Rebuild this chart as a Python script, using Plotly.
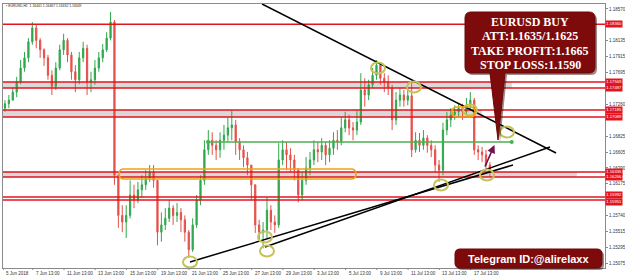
import plotly.graph_objects as go

# ---------------- data ----------------
hours_per_candle = 6          # each candle aggregates 6 H1 bars
first_open = 1.1721
close = [1.1727, 1.1732, 1.1743, 1.1757, 1.1776, 1.1790, 1.1812, 1.1831, 1.1814, 1.1801,
         1.1790, 1.1766, 1.1751, 1.1776, 1.1801, 1.1814, 1.1794, 1.1771, 1.1760, 1.1790,
         1.1803, 1.1757, 1.1760, 1.1776, 1.1790, 1.1801, 1.1817, 1.1839, 1.1629, 1.1574,
         1.1565, 1.1574, 1.1602, 1.1595, 1.1609, 1.1616, 1.1625, 1.1633, 1.1622, 1.1551,
         1.1561, 1.1570, 1.1584, 1.1574, 1.1578, 1.1568, 1.1551, 1.1527, 1.1561, 1.1595,
         1.1622, 1.1664, 1.1677, 1.1670, 1.1664, 1.1677, 1.1684, 1.1694, 1.1698, 1.1675,
         1.1664, 1.1653, 1.1643, 1.1616, 1.1561, 1.1551, 1.1554, 1.1581, 1.1565, 1.1561,
         1.1650, 1.1664, 1.1657, 1.1650, 1.1636, 1.1602, 1.1622, 1.1639, 1.1650, 1.1664,
         1.1661, 1.1670, 1.1657, 1.1666, 1.1677, 1.1675, 1.1694, 1.1705, 1.1694, 1.1691,
         1.1702, 1.1746, 1.1739, 1.1753, 1.1766, 1.1780, 1.1762, 1.1757, 1.1749, 1.1705,
         1.1732, 1.1739, 1.1732, 1.1738, 1.1664, 1.1677, 1.1670, 1.1680, 1.1670, 1.1664,
         1.1643, 1.1636, 1.1691, 1.1705, 1.1712, 1.1716, 1.1721, 1.1716, 1.1725, 1.1732,
         1.1664, 1.1661, 1.1657, 1.1643, 1.1635]
high = [1.1732, 1.1739, 1.1749, 1.1764, 1.1787, 1.1798, 1.1817, 1.1839, 1.1835, 1.1817,
        1.1803, 1.1794, 1.1773, 1.1784, 1.1808, 1.1823, 1.1817, 1.1798, 1.1780, 1.1798,
        1.1812, 1.1808, 1.1771, 1.1787, 1.1798, 1.1809, 1.1825, 1.1853, 1.1842, 1.1629,
        1.1588, 1.1588, 1.1622, 1.1616, 1.1620, 1.1629, 1.1636, 1.1643, 1.1643, 1.1622,
        1.1578, 1.1584, 1.1595, 1.1588, 1.1591, 1.1584, 1.1574, 1.1554, 1.1570, 1.1602,
        1.1629, 1.1677, 1.1691, 1.1688, 1.1677, 1.1688, 1.1698, 1.1708, 1.1718, 1.1705,
        1.1680, 1.1670, 1.1661, 1.1643, 1.1616, 1.1568, 1.1565, 1.1599, 1.1588, 1.1574,
        1.1673, 1.1677, 1.1675, 1.1666, 1.1657, 1.1639, 1.1633, 1.1654, 1.1661, 1.1677,
        1.1675, 1.1680, 1.1675, 1.1677, 1.1688, 1.1691, 1.1708, 1.1716, 1.1712, 1.1702,
        1.1718, 1.1769, 1.1762, 1.1760, 1.1776, 1.1787, 1.1784, 1.1769, 1.1766, 1.1753,
        1.1743, 1.1749, 1.1746, 1.1749, 1.1756, 1.1688, 1.1687, 1.1691, 1.1684, 1.1677,
        1.1670, 1.1650, 1.1701, 1.1716, 1.1721, 1.1725, 1.1728, 1.1727, 1.1735, 1.1743,
        1.1735, 1.1670, 1.1668, 1.1664, 1.1647]
low = [1.1716, 1.1721, 1.1732, 1.1736, 1.1754, 1.1771, 1.1784, 1.1808, 1.1803, 1.1790,
       1.1779, 1.1760, 1.1739, 1.1746, 1.1773, 1.1794, 1.1784, 1.1760, 1.1743, 1.1754,
       1.1784, 1.1739, 1.1743, 1.1753, 1.1771, 1.1784, 1.1798, 1.1814, 1.1616, 1.1557,
       1.1551, 1.1543, 1.1570, 1.1584, 1.1591, 1.1598, 1.1609, 1.1620, 1.1612, 1.1533,
       1.1538, 1.1554, 1.1565, 1.1561, 1.1565, 1.1551, 1.1538, 1.1516, 1.1524, 1.1557,
       1.1588, 1.1616, 1.1657, 1.1657, 1.1650, 1.1653, 1.1664, 1.1675, 1.1677, 1.1657,
       1.1650, 1.1640, 1.1629, 1.1595, 1.1550, 1.1540, 1.1529, 1.1543, 1.1554, 1.1550,
       1.1557, 1.1643, 1.1636, 1.1633, 1.1622, 1.1592, 1.1595, 1.1616, 1.1629, 1.1643,
       1.1647, 1.1650, 1.1643, 1.1647, 1.1657, 1.1664, 1.1670, 1.1688, 1.1684, 1.1677,
       1.1684, 1.1698, 1.1723, 1.1732, 1.1749, 1.1760, 1.1753, 1.1743, 1.1739, 1.1691,
       1.1698, 1.1723, 1.1723, 1.1725, 1.1654, 1.1660, 1.1661, 1.1664, 1.1660, 1.1654,
       1.1633, 1.1620, 1.1629, 1.1684, 1.1695, 1.1705, 1.1708, 1.1705, 1.1712, 1.1718,
       1.1657, 1.1650, 1.1647, 1.1636, 1.1627]

tick_bars = [0, 45, 93, 141, 189, 237, 285, 333, 381, 429, 477, 525, 573, 621, 669, 717]
tick_labels = ['5 Jun 2018', '7 Jun 13:00', '11 Jun 13:00', '13 Jun 13:00', '15 Jun 13:00',
               '19 Jun 13:00', '21 Jun 13:00', '25 Jun 13:00', '27 Jun 13:00', '29 Jun 13:00',
               '3 Jul 13:00', '5 Jul 13:00', '9 Jul 13:00', '11 Jul 13:00', '13 Jul 13:00',
               '17 Jul 13:00']
# price scale labels that stay visible (the others are covered by the level tags)
price_ticks = [1.18570, 1.18135, 1.17915, 1.17695, 1.17260,
               1.16825, 1.16605, 1.16390, 1.16175, 1.15740, 1.15515, 1.15295, 1.15075]

red_levels = [1.18360, 1.17569, 1.17487, 1.17185, 1.17089, 1.16335, 1.16266, 1.15992, 1.15951]
tag_nudge = [0, 0, 0, 0, 0, 0, 0, 1.6, -1.6]   # small vertical nudge of stacked price tags (px)
zones = [(1.17487, 1.17569, 780), (1.17089, 1.17185, 734), (1.16266, 1.16335, 880)]  # (low, high, end bar)
green_level = 1.16746
green_span = [314, 780]

trend_lines = [((397.0, 1.18638), (848.0, 1.16596)),
               ((286.4, 1.15101), (781.9, 1.16431)),
               ((401.4, 1.15307), (838.7, 1.16678))]
circles = [(574.8, 1.17761), (630.0, 1.17500), (716.0, 1.17185), (772.7, 1.16883),
           (742.0, 1.16294), (671.5, 1.16157), (286.4, 1.15101), (401.4, 1.15444),
           (404.5, 1.15252)]
orange_boxes = [((177.5, 1.16239), (541.1, 1.16376)), ((688.4, 1.17089), (723.7, 1.17226))]
arrow = ((738.0, 1.16390), (753.5, 1.16705))

header = '\u25aa EURUSD,H1  1.16441 1.16467 1.16332 1.16349'
signal_lines = ['EURUSD BUY', 'ATT:1.1635/1.1625', 'TAKE PROFIT:1.1665', 'STOP LOSS:1.1590']
telegram = 'Telegram ID:@alirelaxx'

# ---------------- figure ----------------
W, H = 625, 279
ML, MR, MT, MB = 3, 20, 4, 11
x_range = [-0.5, 923.1]
y_range = [1.15019, 1.18638]
bar_px = (W - ML - MR) / (x_range[1] - x_range[0])
price_px = (H - MT - MB) / (y_range[1] - y_range[0])

candle_x = [hours_per_candle * k + 2.5 for k in range(len(close))]
opens = [first_open] + close[:-1]

fig = go.Figure()
fig.add_trace(go.Candlestick(
    x=candle_x, open=opens, high=high, low=low, close=close,
    increasing=dict(line=dict(color='#2fa84c', width=1), fillcolor='#2fa84c'),
    decreasing=dict(line=dict(color='#e5504a', width=1), fillcolor='#e5504a'),
    whiskerwidth=0, showlegend=False, hoverinfo='skip'))

shapes = []
for lo, hi, end in zones:
    shapes.append(dict(type='rect', xref='x', yref='y', x0=x_range[0], x1=end, y0=lo, y1=hi,
                       fillcolor='#d9d9d9', line=dict(width=0), layer='below'))
for lv in red_levels:
    shapes.append(dict(type='line', xref='paper', yref='y', x0=0, x1=1, y0=lv, y1=lv,
                       line=dict(color='#e3141c', width=1.4)))
for (xa, ya), (xb, yb) in trend_lines:
    shapes.append(dict(type='line', xref='x', yref='y', x0=xa, y0=ya, x1=xb, y1=yb,
                       line=dict(color='black', width=1.5)))
for b in tick_bars:   # small tick marks under the time scale
    shapes.append(dict(type='line', xref='x', yref='paper', x0=b, x1=b, y0=0, y1=-2 / (H - MT - MB),
                       line=dict(color='#8a8a8a', width=1)))

rx_c, ry_c = 7 / bar_px, 5.5 / price_px
for cx, cy in circles:
    shapes.append(dict(type='circle', xref='x', yref='y', x0=cx - rx_c, x1=cx + rx_c,
                       y0=cy - ry_c, y1=cy + ry_c, line=dict(color='#c6c25a', width=2)))


def rounded_path(x0, y0, x1, y1, rx, ry):
    return (f'M{x0+rx},{y0} L{x1-rx},{y0} Q{x1},{y0} {x1},{y0+ry} L{x1},{y1-ry} '
            f'Q{x1},{y1} {x1-rx},{y1} L{x0+rx},{y1} Q{x0},{y1} {x0},{y1-ry} '
            f'L{x0},{y0+ry} Q{x0},{y0} {x0+rx},{y0} Z')


for (xa, ya), (xb, yb) in orange_boxes:
    r_x = min(5 / bar_px, (xb - xa) / 2)
    r_y = (yb - ya) / 2
    shapes.append(dict(type='path', xref='x', yref='y', path=rounded_path(xa, ya, xb, yb, r_x, r_y),
                       line=dict(color='#f0a318', width=1.6)))


# overlay graphics positioned in paper coordinates (pixel helpers)
def px(xp):
    return (xp - ML) / (W - ML - MR)


def py(yp):
    return (H - MB - yp) / (H - MT - MB)


def callout_path(dx=0, dy=0):
    x0, x1 = px(465 + dx), px(595 + dx)
    yt, yb = py(12 + dy), py(73 + dy)
    rx, ry = 6 / (W - ML - MR), 6 / (H - MT - MB)
    b1, b2, tx, ty = px(490 + dx), px(505 + dx), px(498 + dx), py(140 + dy)
    return (f'M{x0+rx},{yt} L{x1-rx},{yt} Q{x1},{yt} {x1},{yt-ry} L{x1},{yb+ry} '
            f'Q{x1},{yb} {x1-rx},{yb} L{b2},{yb} L{tx},{ty} L{b1},{yb} L{x0+rx},{yb} '
            f'Q{x0},{yb} {x0},{yb+ry} L{x0},{yt-ry} Q{x0},{yt} {x0+rx},{yt} Z')


shapes.append(dict(type='path', xref='paper', yref='paper', path=callout_path(2, 2),
                   fillcolor='rgba(40,0,0,0.45)', line=dict(width=0)))
shapes.append(dict(type='path', xref='paper', yref='paper', path=callout_path(),
                   fillcolor='#7e0b0b', line=dict(color='#6a0808', width=1)))

rx_t, ry_t = 5 / (W - ML - MR), 5 / (H - MT - MB)
shapes.append(dict(type='path', xref='paper', yref='paper',
                   path=rounded_path(px(457), py(270), px(604), py(251), rx_t, ry_t),
                   fillcolor='rgba(40,0,0,0.45)', line=dict(width=0)))
shapes.append(dict(type='path', xref='paper', yref='paper',
                   path=rounded_path(px(455), py(268), px(602), py(249), rx_t, ry_t),
                   fillcolor='#7e0b0b', line=dict(color='#6a0808', width=1)))

fig.add_trace(go.Scatter(x=green_span, y=[green_level, green_level], mode='lines+markers',
                         line=dict(color='#4caf50', width=1.6), marker=dict(size=4, color='#4caf50'),
                         showlegend=False, hoverinfo='skip'))

annotations = []
# time-scale labels, left-aligned at their ticks
for b, t in zip(tick_bars, tick_labels):
    annotations.append(dict(xref='x', yref='paper', x=b, y=py(273), text=t, showarrow=False,
                            xanchor='left', yanchor='middle', xshift=1,
                            font=dict(size=4.5, family='Liberation Sans', color='#333')))
for lv, nudge in zip(red_levels, tag_nudge):
    annotations.append(dict(xref='paper', yref='y', x=1, y=lv, xanchor='left', yshift=nudge,
                            text=f'{lv:.5f}', showarrow=False, bgcolor='#e3141c',
                            font=dict(size=4.2, color='white', family='Liberation Sans'),
                            borderpad=0.3))
(ax0, ay0), (ax1, ay1) = arrow
annotations.append(dict(xref='x', yref='y', axref='x', ayref='y', x=ax1, y=ay1, ax=ax0, ay=ay0,
                        text='', showarrow=True, arrowhead=2, arrowsize=1, arrowwidth=1.6,
                        arrowcolor='#6e1250'))
for i, t in enumerate(signal_lines):
    annotations.append(dict(xref='paper', yref='paper', x=px(530), y=py(22 + i * 14.5),
                            text=f'<b>{t}</b>', showarrow=False, xanchor='center', yanchor='middle',
                            font=dict(size=12, color='white', family='Liberation Serif')))
annotations.append(dict(xref='paper', yref='paper', x=px(528), y=py(259), text=f'<b>{telegram}</b>',
                        showarrow=False, xanchor='center', yanchor='middle',
                        font=dict(size=11, color='white', family='Liberation Sans')))
annotations.append(dict(xref='paper', yref='paper', x=px(4), y=py(5.5), text=header,
                        showarrow=False, xanchor='left', yanchor='middle',
                        font=dict(size=3.4, color='#222', family='Liberation Sans')))

fig.update_layout(
    width=W, height=H, margin=dict(l=ML, r=MR, t=MT, b=MB, autoexpand=False),
    paper_bgcolor='white', plot_bgcolor='white', boxgap=0.55,
    shapes=shapes, annotations=annotations,
    xaxis=dict(range=x_range, showticklabels=False, ticks='', showgrid=False,
               zeroline=False, showline=True, linecolor='#8a8a8a', linewidth=1, mirror=True,
               automargin=False, rangeslider=dict(visible=False), fixedrange=True),
    yaxis=dict(range=y_range, side='right', tickvals=price_ticks, tickformat='.5f',
               showgrid=False, zeroline=False, showline=True, linecolor='#8a8a8a', linewidth=1,
               mirror=True, ticks='outside', ticklen=2, tickcolor='#8a8a8a', automargin=False,
               tickfont=dict(size=4.5, family='Liberation Sans', color='#333'), fixedrange=True),
)

fig.write_html('out.html')
